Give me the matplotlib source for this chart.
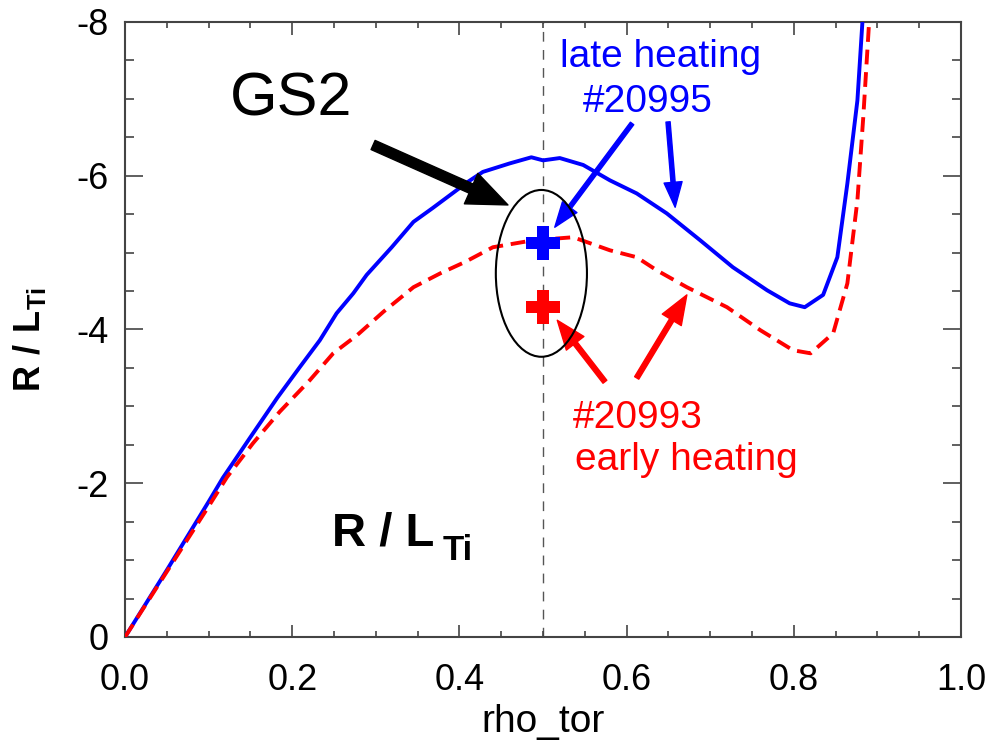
import matplotlib
matplotlib.use('Agg')
import matplotlib.pyplot as plt
from matplotlib.patches import Ellipse
from matplotlib.ticker import MultipleLocator, FormatStrFormatter

# R/L_Ti profiles against rho_tor for the two discharges
rho_late = [0.0, 0.05, 0.1, 0.117, 0.15, 0.182, 0.209, 0.233, 0.253, 0.273,
            0.289, 0.319, 0.345, 0.368, 0.389, 0.41, 0.428, 0.46, 0.486, 0.5,
            0.52, 0.548, 0.58, 0.612, 0.648, 0.688, 0.727, 0.768, 0.795, 0.813,
            0.835, 0.852, 0.864, 0.876, 0.882]
rlti_late = [0.0, -0.87, -1.76, -2.07, -2.60, -3.11, -3.51, -3.86, -4.21, -4.47,
             -4.71, -5.07, -5.40, -5.58, -5.75, -5.92, -6.05, -6.16, -6.24, -6.20,
             -6.23, -6.14, -5.94, -5.77, -5.51, -5.16, -4.81, -4.51, -4.34, -4.29,
             -4.45, -4.94, -5.90, -6.98, -8.0]

rho_early = [0.0, 0.05, 0.1, 0.122, 0.153, 0.185, 0.221, 0.249, 0.278, 0.309,
             0.345, 0.377, 0.407, 0.44, 0.488, 0.536, 0.58, 0.612, 0.636, 0.672,
             0.72, 0.76, 0.799, 0.82, 0.847, 0.864, 0.876, 0.883, 0.89]
rlti_early = [0.0, -0.85, -1.70, -2.08, -2.52, -2.93, -3.34, -3.69, -3.93, -4.23,
              -4.55, -4.73, -4.88, -5.07, -5.16, -5.20, -5.03, -4.94, -4.77, -4.55,
              -4.29, -3.99, -3.73, -3.69, -3.95, -4.60, -5.68, -6.76, -8.0]

# GS2 points at mid radius
gs2_rho = 0.5
gs2_late = -5.12
gs2_early = -4.29

plt.rcParams['font.family'] = ['Liberation Sans', 'DejaVu Sans']
plt.rcParams['axes.unicode_minus'] = False
plt.rcParams['mathtext.fontset'] = 'custom'
plt.rcParams['mathtext.bf'] = 'Liberation Sans:bold'
plt.rcParams['mathtext.rm'] = 'Liberation Sans'

fig = plt.figure(figsize=(9.98, 7.43), dpi=100)
ax = fig.add_axes([0.1253, 0.1427, 0.8377, 0.8277])

ax.axvline(gs2_rho, color='#555555', lw=1.0, dashes=(7, 6), zorder=1)
ax.plot(rho_late, rlti_late, color='#0000ff', lw=2.8, zorder=3)
ax.plot(rho_early, rlti_early, color='#ff0000', lw=2.8, dashes=(3.8, 2.0), zorder=3)

ax.plot(gs2_rho, gs2_late, marker='P', ms=25, color='#0000ff', mew=0, zorder=4)
ax.plot(gs2_rho, gs2_early, marker='P', ms=25, color='#ff0000', mew=0, zorder=4)
ax.add_patch(Ellipse((0.498, -4.73), 0.109, 2.17, fill=False, ec='black', lw=1.5, zorder=4))

ax.set_xlim(0, 1)
ax.set_ylim(0, -8)
ax.xaxis.set_major_locator(MultipleLocator(0.2))
ax.xaxis.set_minor_locator(MultipleLocator(0.05))
ax.xaxis.set_major_formatter(FormatStrFormatter('%.1f'))
ax.yaxis.set_major_locator(MultipleLocator(2))
ax.yaxis.set_minor_locator(MultipleLocator(0.5))
ax.yaxis.set_major_formatter(FormatStrFormatter('%d'))

for s in ax.spines.values():
    s.set_color('#444444')
    s.set_linewidth(1.5)
ax.tick_params(axis='both', which='both', direction='in', top=True, right=True,
               color='#444444', width=1.2, labelsize=26)
ax.tick_params(axis='x', which='major', length=9, pad=19)
ax.tick_params(axis='x', which='minor', length=4.5)
ax.tick_params(axis='y', which='major', length=13, pad=12)
ax.tick_params(axis='y', which='minor', length=6.5)

ax.set_xlabel('rho_tor', fontsize=28, labelpad=4)
fig.text(30 / 998, 1 - 340 / 743, r'$\mathbf{R\ /\ L_{Ti}}$', rotation=90,
         ha='center', va='center', fontsize=26)

# annotations
ax.text(0.1256, -6.79, 'GS2', fontsize=44, ha='left', va='baseline')
ax.annotate('', xy=(0.458, -5.62), xytext=(0.2967, -6.40),
            arrowprops=dict(color='black', width=7.2, headwidth=24, headlength=29))

ax.text(0.640, -7.41, 'late heating', color='#0000ff', fontsize=28, ha='center', va='baseline')
ax.text(0.6256, -6.83, '#20995', color='#0000ff', fontsize=28, ha='center', va='baseline')
ax.annotate('', xy=(0.514, -5.33), xytext=(0.6065, -6.68),
            arrowprops=dict(color='#0000ff', width=3, headwidth=13, headlength=18))
ax.annotate('', xy=(0.658, -5.59), xytext=(0.6495, -6.70),
            arrowprops=dict(color='#0000ff', width=3, headwidth=13, headlength=18))

ax.text(0.536, -2.72, '#20993', color='#ff0000', fontsize=28, ha='left', va='baseline')
ax.text(0.538, -2.17, 'early heating', color='#ff0000', fontsize=28, ha='left', va='baseline')
ax.annotate('', xy=(0.517, -4.12), xytext=(0.574, -3.32),
            arrowprops=dict(color='#ff0000', width=3.5, headwidth=16, headlength=21))
ax.annotate('', xy=(0.672, -4.45), xytext=(0.612, -3.37),
            arrowprops=dict(color='#ff0000', width=3.5, headwidth=16, headlength=21))

ax.text(0.2476, -1.196, 'R / L', fontsize=34, fontweight='bold', ha='left', va='baseline')
ax.text(0.380, -1.0, 'Ti', fontsize=25, fontweight='bold', ha='left', va='baseline')

fig.savefig('out.png', dpi=100)
